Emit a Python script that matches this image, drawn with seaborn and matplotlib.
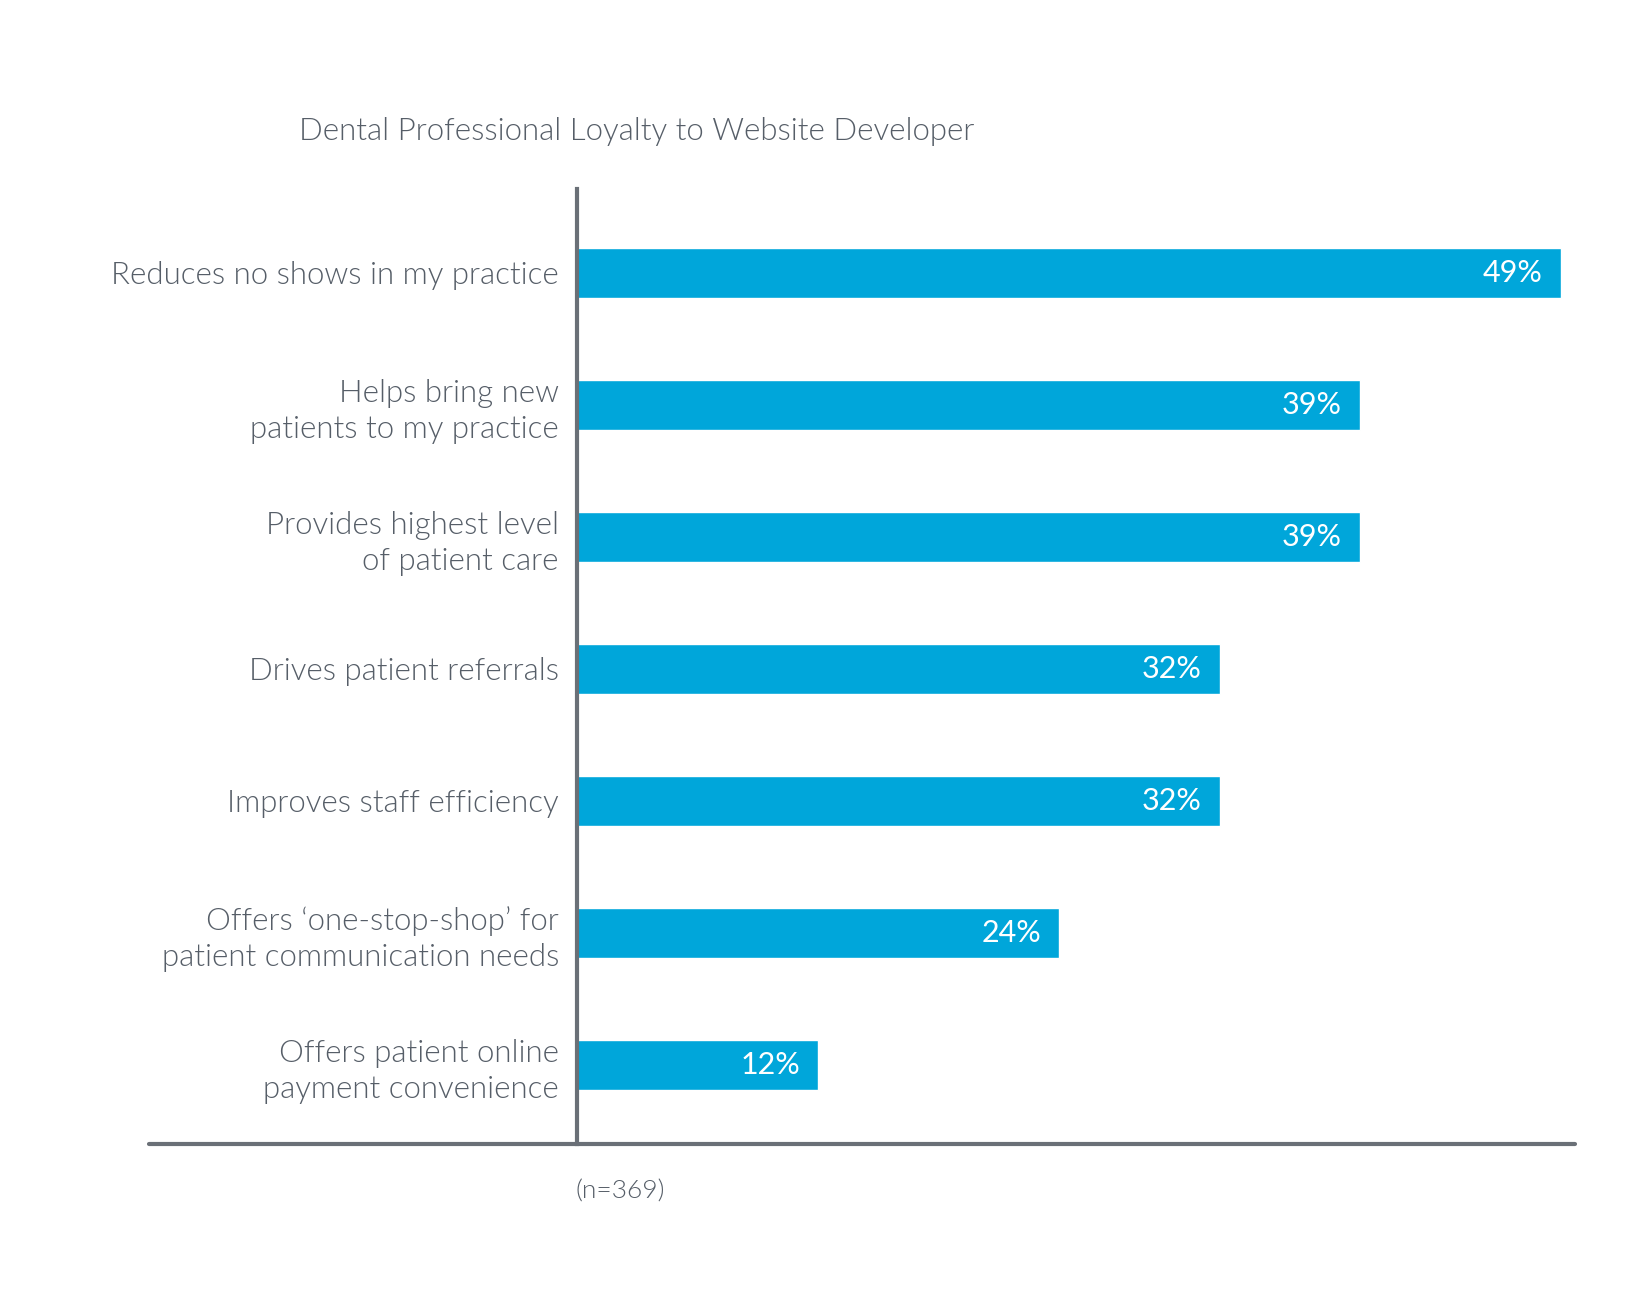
import matplotlib
matplotlib.use('Agg')
import matplotlib.pyplot as plt
from matplotlib.lines import Line2D
import seaborn as sns
import pandas as pd

# Datos
categorias = [
    'Reduces no shows in my practice',
    'Helps bring new\npatients to my practice',
    'Provides highest level\nof patient care',
    'Drives patient referrals',
    'Improves staff efficiency',
    'Offers \u2018one-stop-shop\u2019 for\npatient communication needs',
    'Offers patient online\npayment convenience',
]
valores = [49, 39, 39, 32, 32, 24, 12]
etiquetas = ['49%', '39%', '39%', '32%', '32%', '24%', '12%']
titulo = 'Dental Professional Loyalty to Website Developer'
nota = '(n=369)'

df = pd.DataFrame({'categoria': categorias, 'valor': valores})

sns.set_style('white')
plt.rcParams['font.family'] = ['Lato', 'DejaVu Sans']

azul = '#00a6da'
gris_texto = '#565e68'
gris_linea = '#6a7077'

fig = plt.figure(figsize=(16.44, 13.08), dpi=100)
W, H = 1644, 1308
ax = fig.add_axes([577 / W, 164 / H, (1575 - 577) / W, (1144 - 189) / H])

sns.barplot(data=df, x='valor', y='categoria', orient='h', color=azul,
            width=0.38, saturation=1, ax=ax)

ax.set_xlim(0, 49.7)
ax.set_ylim(6.6, -0.636)

# Etiquetas de valores dentro de las barras
for i, (v, t) in enumerate(zip(valores, etiquetas)):
    ax.annotate(t, xy=(v, i), xytext=(-13, 0), textcoords='offset points',
                ha='right', va='center', color='white', fontsize=22)

ax.set_xlabel('')
ax.set_ylabel('')
ax.set_xticks([])
ax.tick_params(axis='y', length=0, pad=13, labelsize=22.5, labelcolor=gris_texto)
for lab in ax.get_yticklabels():
    lab.set_fontweight(300)
    lab.set_linespacing(1.3)

for s in ['top', 'right', 'bottom']:
    ax.spines[s].set_visible(False)
ax.spines['left'].set_color(gris_linea)
ax.spines['left'].set_linewidth(3)

# Linea base que se extiende hasta debajo de las etiquetas
fig.add_artist(Line2D([149 / W, 1575 / W], [1 - 1144 / H, 1 - 1144 / H],
                      color=gris_linea, linewidth=3, transform=fig.transFigure))

fig.text(299 / W, 1 - 131 / H, titulo, ha='left', va='center',
         fontsize=22.5, color=gris_texto, fontweight=300)
fig.text(575 / W, 1 - 1192 / H, nota, ha='left', va='center',
         fontsize=19, color=gris_texto, fontweight=300)

fig.savefig('out.png', dpi=100, facecolor='white')
